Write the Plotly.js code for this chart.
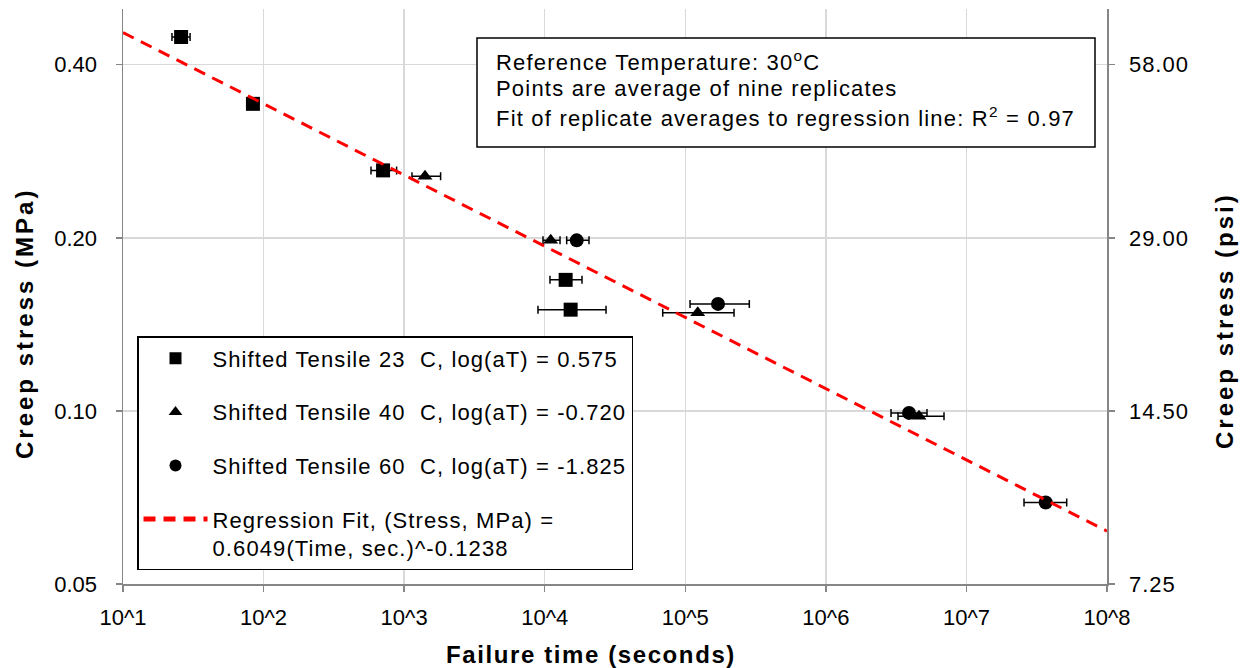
<!DOCTYPE html>
<html><head><meta charset="utf-8">
<script src="https://cdn.plot.ly/plotly-3.0.1.min.js"></script>
<style>
html,body{margin:0;padding:0;background:#fff;}
#chart{width:1251px;height:668px;}
.legendtext{letter-spacing:1.1px;}
.annotation-text{letter-spacing:1.2px;}
.y2tick text{letter-spacing:1px;}
</style></head><body><div id="chart"></div>
<script>
// ---- data ----
const time23   = [25.9, 84, 708, 14090, 15290];
const stress23 = [0.447, 0.342, 0.262, 0.169, 0.150];
const lo23     = [22.3, 84, 581, 10900, 8955];
const hi23     = [30.0, 84, 884, 18420, 27300];

const time40   = [1407, 11030, 122600, 4598000];
const stress40 = [0.256, 0.198, 0.1482, 0.0979];
const lo40     = [1137, 9723, 69100, 3261000];
const hi40     = [1817, 12850, 222200, 6926000];

const time60   = [16890, 170900, 3904000, 36640000];
const stress60 = [0.198, 0.1535, 0.0992, 0.0693];
const lo60     = [14330, 108100, 2907000, 25680000];
const hi60     = [20660, 285400, 5243000, 51680000];

const fitTime   = [10, 1e8];
const fitStress = [0.455, 0.0618];

const xTickVals = [1e1, 1e2, 1e3, 1e4, 1e5, 1e6, 1e7, 1e8];
const xTickText = ['10^1','10^2','10^3','10^4','10^5','10^6','10^7','10^8'];
const yTickVals = [0.05, 0.1, 0.2, 0.4];
const yTickText = ['0.05','0.10','0.20','0.40'];
const psiTickVals = [7.25, 14.5, 29, 58];
const psiTickText = ['7.25','14.50','29.00','58.00'];

const names = [
  'Shifted Tensile 23\u00a0\u00a0C, log(aT) = 0.575',
  'Shifted Tensile 40\u00a0\u00a0C, log(aT) = -0.720',
  'Shifted Tensile 60\u00a0\u00a0C, log(aT) = -1.825',
  'Regression Fit, (Stress, MPa) =<br>0.6049(Time, sec.)^-0.1238'
];

const FONT = 'Liberation Sans, Arial, sans-serif';

function errs(t, lo, hi){
  return {type:'data', symmetric:false, visible:true,
    array: hi.map((h,i)=>h-t[i]), arrayminus: lo.map((l,i)=>t[i]-l),
    color:'#000', thickness:1.5, width:4};
}

const traces = [
  {x: time23, y: stress23, type:'scatter', mode:'markers', name: names[0], legendgroup:'a',
   marker:{symbol:'square', size:14, color:'#000'}, error_x: errs(time23, lo23, hi23)},
  {x: time40, y: stress40, type:'scatter', mode:'markers', name: names[1], legendgroup:'b',
   marker:{symbol:'triangle-up', size:13, color:'#000'}, error_x: errs(time40, lo40, hi40)},
  {x: time60, y: stress60, type:'scatter', mode:'markers', name: names[2], legendgroup:'c',
   marker:{symbol:'circle', size:14, color:'#000'}, error_x: errs(time60, lo60, hi60)},
  {x: fitTime, y: fitStress, type:'scatter', mode:'lines', name: names[3], legendgroup:'d',
   line:{color:'#ff0000', width:3, dash:'12px,8px'}},
  // empty trace that only attaches the psi axis so it is drawn
  {x: [], y: [], type:'scatter', mode:'markers', yaxis:'y2', showlegend:false, hoverinfo:'skip'}
];

const L = 123, R = 1107, T = 9, B = 584;
const px = v => (v - L) / (R - L);
const py = v => (B - v) / (B - T);

const axisCommon = {
  showline: true, linecolor: '#868686', linewidth: 1.5,
  ticks: 'outside', ticklen: 6, tickcolor: '#868686', tickwidth: 1.5,
  tickfont: {family: FONT, size: 22, color: '#000'},
  zeroline: false, tickmode: 'array'
};

const layout = {
  width: 1251, height: 668,
  margin: {l: L, r: 1251 - R, t: T, b: 668 - B, pad: 0},
  paper_bgcolor: '#fff', plot_bgcolor: '#fff',
  font: {family: FONT, size: 22, color: '#000'},
  showlegend: true,
  xaxis: Object.assign({}, axisCommon, {
    type: 'log', range: [1, 8], tickvals: xTickVals, ticktext: xTickText,
    showgrid: true, gridcolor: '#d9d9d9', gridwidth: 1.5, ticklabelstandoff: 7
  }),
  yaxis: Object.assign({}, axisCommon, {
    type: 'log', range: [Math.log10(0.05), Math.log10(0.5)],
    tickvals: yTickVals, ticktext: yTickText,
    showgrid: true, gridcolor: '#d9d9d9', gridwidth: 1.5, ticklabelstandoff: 14
  }),
  yaxis2: Object.assign({}, axisCommon, {
    type: 'log', overlaying: 'y', side: 'right', anchor: 'x',
    range: [Math.log10(7.25), Math.log10(72.5)],
    tickvals: psiTickVals, ticktext: psiTickText,
    showgrid: false, ticklabelstandoff: 10
  }),
  legend: {
    x: px(137), y: py(336), xanchor: 'left', yanchor: 'top',
    bgcolor: '#fff', bordercolor: '#000', borderwidth: 1.5,
    font: {family: FONT, size: 22, color: '#000'},
    traceorder: 'grouped', tracegroupgap: 22, itemwidth: 64,
    itemsizing: 'constant', valign: 'top'
  },
  shapes: [
    {type: 'rect', xref: 'paper', yref: 'paper', x0: px(477), x1: px(1095), y0: py(147), y1: py(38),
     line: {color: '#000', width: 1.5}, fillcolor: '#fff', layer: 'above'}
  ],
  annotations: [
    {xref:'paper', yref:'paper', x: px(494), y: py(61), xanchor:'left', yanchor:'middle', showarrow:false,
     text:'Reference Temperature: 30<sup>o</sup>C', font:{family:FONT, size:22, color:'#000'}},
    {xref:'paper', yref:'paper', x: px(494), y: py(89), xanchor:'left', yanchor:'middle', showarrow:false,
     text:'Points are average of nine replicates', font:{family:FONT, size:22, color:'#000'}},
    {xref:'paper', yref:'paper', x: px(494), y: py(117), xanchor:'left', yanchor:'middle', showarrow:false,
     text:'Fit of replicate averages to regression line: R<sup>2</sup> = 0.97', font:{family:FONT, size:22, color:'#000'}},
    {xref:'paper', yref:'paper', x: px(591), y: py(654), xanchor:'center', yanchor:'middle', showarrow:false,
     text:'<span style="letter-spacing:1.6px">Failure time (seconds)</span>',
     font:{family:FONT, size:24, color:'#000', weight:'bold'}},
    {xref:'paper', yref:'paper', x: px(25), y: py(324), xanchor:'center', yanchor:'middle', showarrow:false,
     textangle:-90, text:'<span style="letter-spacing:3px">Creep stress (MPa)</span>',
     font:{family:FONT, size:24, color:'#000', weight:'bold'}},
    {xref:'paper', yref:'paper', x: px(1225), y: py(321), xanchor:'center', yanchor:'middle', showarrow:false,
     textangle:-90, text:'<span style="letter-spacing:3px">Creep stress (psi)</span>',
     font:{family:FONT, size:24, color:'#000', weight:'bold'}}
  ]
};

Plotly.newPlot('chart', traces, layout, {displayModeBar: false, staticPlot: true});
</script></body></html>
